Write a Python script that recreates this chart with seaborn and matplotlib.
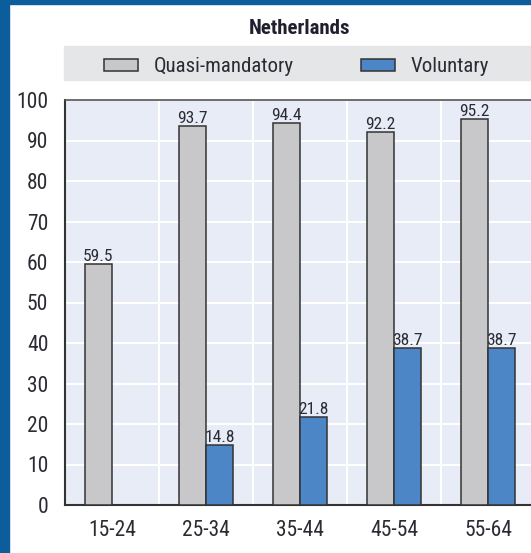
import numpy as np
import pandas as pd
import seaborn as sns
import matplotlib.pyplot as plt
from matplotlib.patches import Rectangle

# Data ------------------------------------------------------------------------
ages = ['15-24', '25-34', '35-44', '45-54', '55-64']
quasi = [59.5, 93.7, 94.4, 92.2, 95.2]
voluntary = [np.nan, 14.8, 21.8, 38.7, 38.7]
series = ['Quasi-mandatory', 'Voluntary']
colors = ['#c8c8ca', '#4d86c6']
title = 'Netherlands'

df = pd.DataFrame({
    'Age': ages * 2,
    'Value': quasi + voluntary,
    'Type': [series[0]] * len(ages) + [series[1]] * len(ages),
})

# Style -----------------------------------------------------------------------
sns.set_style('white')
plt.rcParams['font.family'] = ['Roboto Condensed', 'Roboto', 'DejaVu Sans']
TXT = '#2b2b33'
FS = 15.5

W, H = 531, 553
fig = plt.figure(figsize=(W / 100, H / 100), dpi=100)
ax = fig.add_axes([65 / W, 1 - 505 / H, (535 - 65) / W, (505 - 100) / H])

# frame decorations -----------------------------------------------------------
fig.patches.append(Rectangle((0, 0), 9 / W, 1, transform=fig.transFigure,
                             color='#0b5e9b', zorder=0))
fig.patches.append(Rectangle((0, 1 - 4 / H), 1, 4 / H, transform=fig.transFigure,
                             color='#0b5e9b', zorder=0))
fig.patches.append(Rectangle((64 / W, 1 - 80 / H), (W - 64) / W, 34 / H,
                             transform=fig.transFigure, color='#e5e6e8', zorder=0))

# Plot ------------------------------------------------------------------------
sns.barplot(data=df, x='Age', y='Value', hue='Type', palette=colors,
            width=0.575, gap=0, edgecolor='#333333', linewidth=1.1,
            saturation=1, ax=ax, zorder=3)

for cont in ax.containers:
    vals = cont.datavalues
    labels = ['' if np.isnan(v) else f'{v:.1f}' for v in vals]
    ax.bar_label(cont, labels=labels, padding=0, fontsize=12.5, color=TXT)

ax.set_facecolor('#e7ecf6')
ax.set_xlim(-0.5, 4.5)
ax.set_ylim(0, 100)
ax.set_yticks(range(0, 101, 10))
ax.set_xticks(range(len(ages)))
ax.set_xticks([0.5, 1.5, 2.5, 3.5], minor=True)
ax.grid(axis='y', color='white', linewidth=1.5, zorder=1)
ax.grid(axis='x', which='minor', color='white', linewidth=1.5, zorder=1)
ax.set_axisbelow(True)
ax.tick_params(axis='y', direction='in', length=7, width=1.2, pad=12,
               labelsize=FS, labelcolor=TXT, color='#333333')
ax.tick_params(axis='x', which='major', length=0, pad=11, labelsize=FS,
               labelcolor=TXT)
ax.tick_params(axis='x', which='minor', direction='in', length=5, width=1.2,
               color='#333333')
ax.set_xlabel('')
ax.set_ylabel('')
for side in ['left', 'bottom']:
    ax.spines[side].set_color('#333333')
    ax.spines[side].set_linewidth(1.5)
ax.spines['top'].set_color('#555555')
ax.spines['top'].set_linewidth(1.2)
ax.spines['right'].set_visible(False)

# Legend / title --------------------------------------------------------------
handles, labs = ax.get_legend_handles_labels()
ax.legend_.remove()
fig.legend(handles, labs, loc='center left', bbox_to_anchor=(104 / W, 1 - 67 / H),
           ncol=2, frameon=False, fontsize=15, labelcolor=TXT,
           handlelength=1.63, handleheight=0.48, handletextpad=0.77,
           columnspacing=3.2, borderpad=0, borderaxespad=0)
fig.text(300 / W, 1 - 29 / H, title, ha='center', va='center',
         fontsize=15, fontweight='bold', color='#1f1f2e')

fig.savefig('out.png', dpi=100)
